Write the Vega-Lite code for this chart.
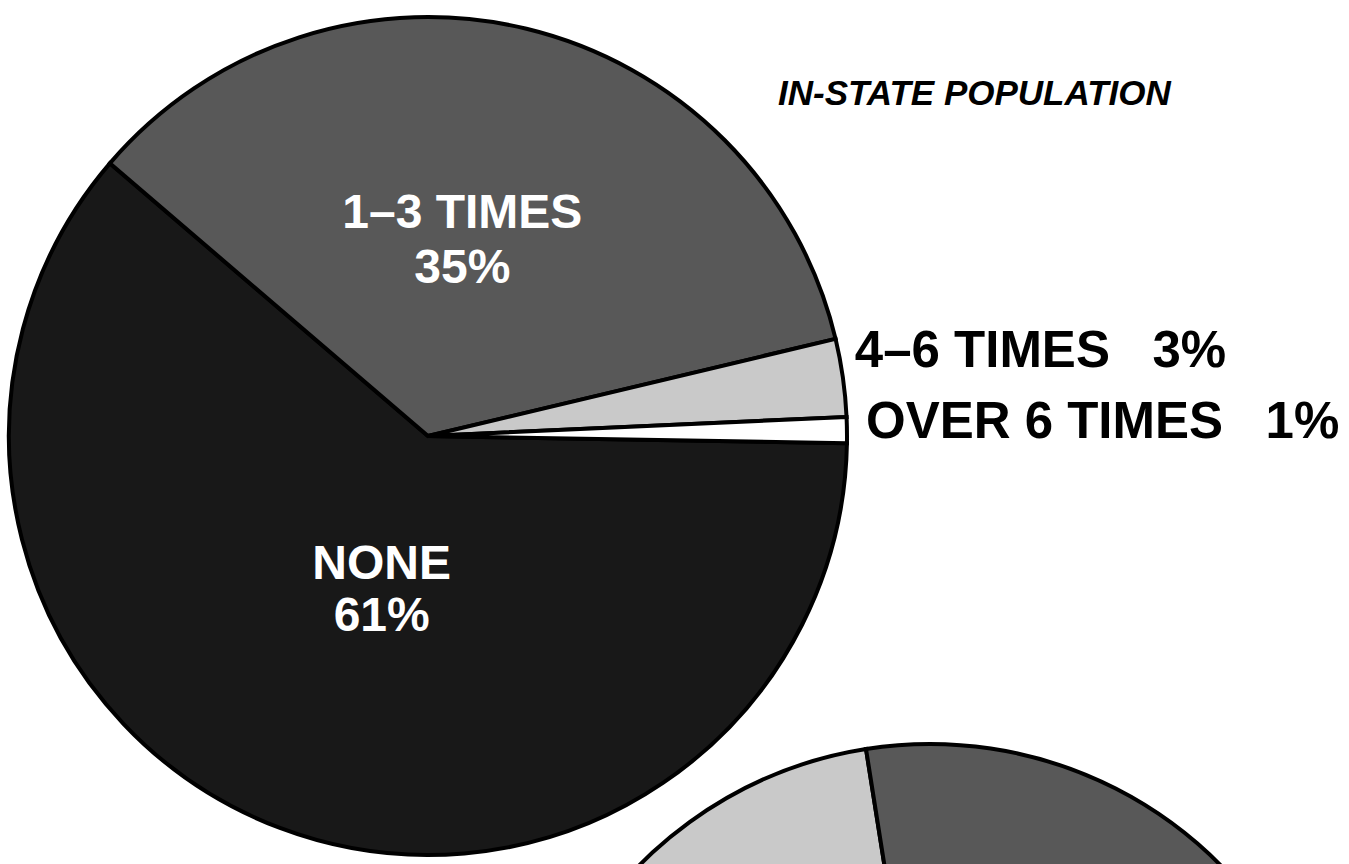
{
  "$schema": "https://vega.github.io/schema/vega-lite/v6.json",
  "padding": 0,
  "background": "white",
  "bounds": "flush",
  "spacing": 0,
  "config": {"view": {"stroke": null}, "font": "Liberation Sans"},
  "hconcat": [
    {
      "width": 856,
      "height": 872,
      "layer": [
        {
          "data": {
            "values": [
              {"category": "NONE", "percent": 61, "label": "NONE\n61%"},
              {"category": "1–3 TIMES", "percent": 35, "label": "1–3 TIMES\n35%"},
              {"category": "4–6 TIMES", "percent": 3, "label": "4–6 TIMES\u00a0\u00a0\u00a03%"},
              {"category": "OVER 6 TIMES", "percent": 1, "label": "OVER 6 TIMES\u00a0\u00a0\u00a01%"}
            ]
          },
          "encoding": {
            "theta": {"field": "percent", "type": "quantitative", "stack": true, "scale": {"range": [1.5882, 7.8714]}},
            "order": {"field": "percent", "sort": "descending"}
          },
          "layer": [
            {
              "mark": {"type": "arc", "outerRadius": 419, "stroke": "black", "strokeWidth": 4, "strokeJoin": "miter"},
              "encoding": {
                "color": {
                  "field": "category",
                  "type": "nominal",
                  "legend": null,
                  "scale": {
                    "domain": ["NONE", "1–3 TIMES", "4–6 TIMES", "OVER 6 TIMES"],
                    "range": ["#181818", "#585858", "#c9c9c9", "#ffffff"]
                  }
                }
              }
            },
            {
              "mark": {"type": "text", "radius": 214, "dx": -16, "fill": "white", "fontWeight": "bold", "lineHeight": 55, "lineBreak": "\n", "align": "center", "baseline": "alphabetic"},
              "encoding": {
                "text": {"condition": {"test": "datum.category === '1–3 TIMES'", "field": "label"}, "value": ""},
                "size": {"condition": {"test": "datum.category === '1–3 TIMES'", "value": 48}, "value": 0}
              }
            },
            {
              "mark": {"type": "text", "radius": 153, "dx": 8, "fill": "white", "fontWeight": "bold", "lineHeight": 52, "lineBreak": "\n", "align": "center", "baseline": "alphabetic"},
              "encoding": {
                "text": {"condition": {"test": "datum.category === 'NONE'", "field": "label"}, "value": ""},
                "size": {"condition": {"test": "datum.category === 'NONE'", "value": 48}, "value": 0}
              }
            },
            {
              "mark": {"type": "text", "radius": 431, "dy": -9, "fill": "black", "fontWeight": "bold", "align": "left", "baseline": "alphabetic"},
              "encoding": {
                "text": {"condition": {"test": "datum.category === '4–6 TIMES'", "field": "label"}, "value": ""},
                "size": {"condition": {"test": "datum.category === '4–6 TIMES'", "value": 51}, "value": 0}
              }
            },
            {
              "mark": {"type": "text", "radius": 438, "dy": 8, "fill": "black", "fontWeight": "bold", "align": "left", "baseline": "alphabetic"},
              "encoding": {
                "text": {"condition": {"test": "datum.category === 'OVER 6 TIMES'", "field": "label"}, "value": ""},
                "size": {"condition": {"test": "datum.category === 'OVER 6 TIMES'", "value": 51}, "value": 0}
              }
            }
          ]
        },
        {
          "data": {"values": [{"heading": "IN-STATE POPULATION"}]},
          "mark": {"type": "text", "dx": 350, "dy": -331, "align": "left", "baseline": "alphabetic", "fill": "black", "fontSize": 35, "fontStyle": "italic", "fontWeight": "bold"},
          "encoding": {"text": {"field": "heading"}}
        }
      ]
    },
    {
      "width": 148,
      "height": 2306,
      "data": {
        "values": [
          {"category": "4–6 TIMES", "percent": 15},
          {"category": "1–3 TIMES", "percent": 40},
          {"category": "NONE", "percent": 45}
        ]
      },
      "mark": {"type": "arc", "outerRadius": 409, "stroke": "black", "strokeWidth": 4},
      "encoding": {
        "theta": {"field": "percent", "type": "quantitative", "stack": true, "scale": {"range": [5.1836, 11.4668]}},
        "order": {"field": "percent", "sort": "ascending"},
        "color": {
          "field": "category",
          "type": "nominal",
          "legend": null,
          "scale": {
            "domain": ["4–6 TIMES", "1–3 TIMES", "NONE"],
            "range": ["#cbcbcb", "#787878", "#161616"]
          }
        }
      }
    }
  ]
}
